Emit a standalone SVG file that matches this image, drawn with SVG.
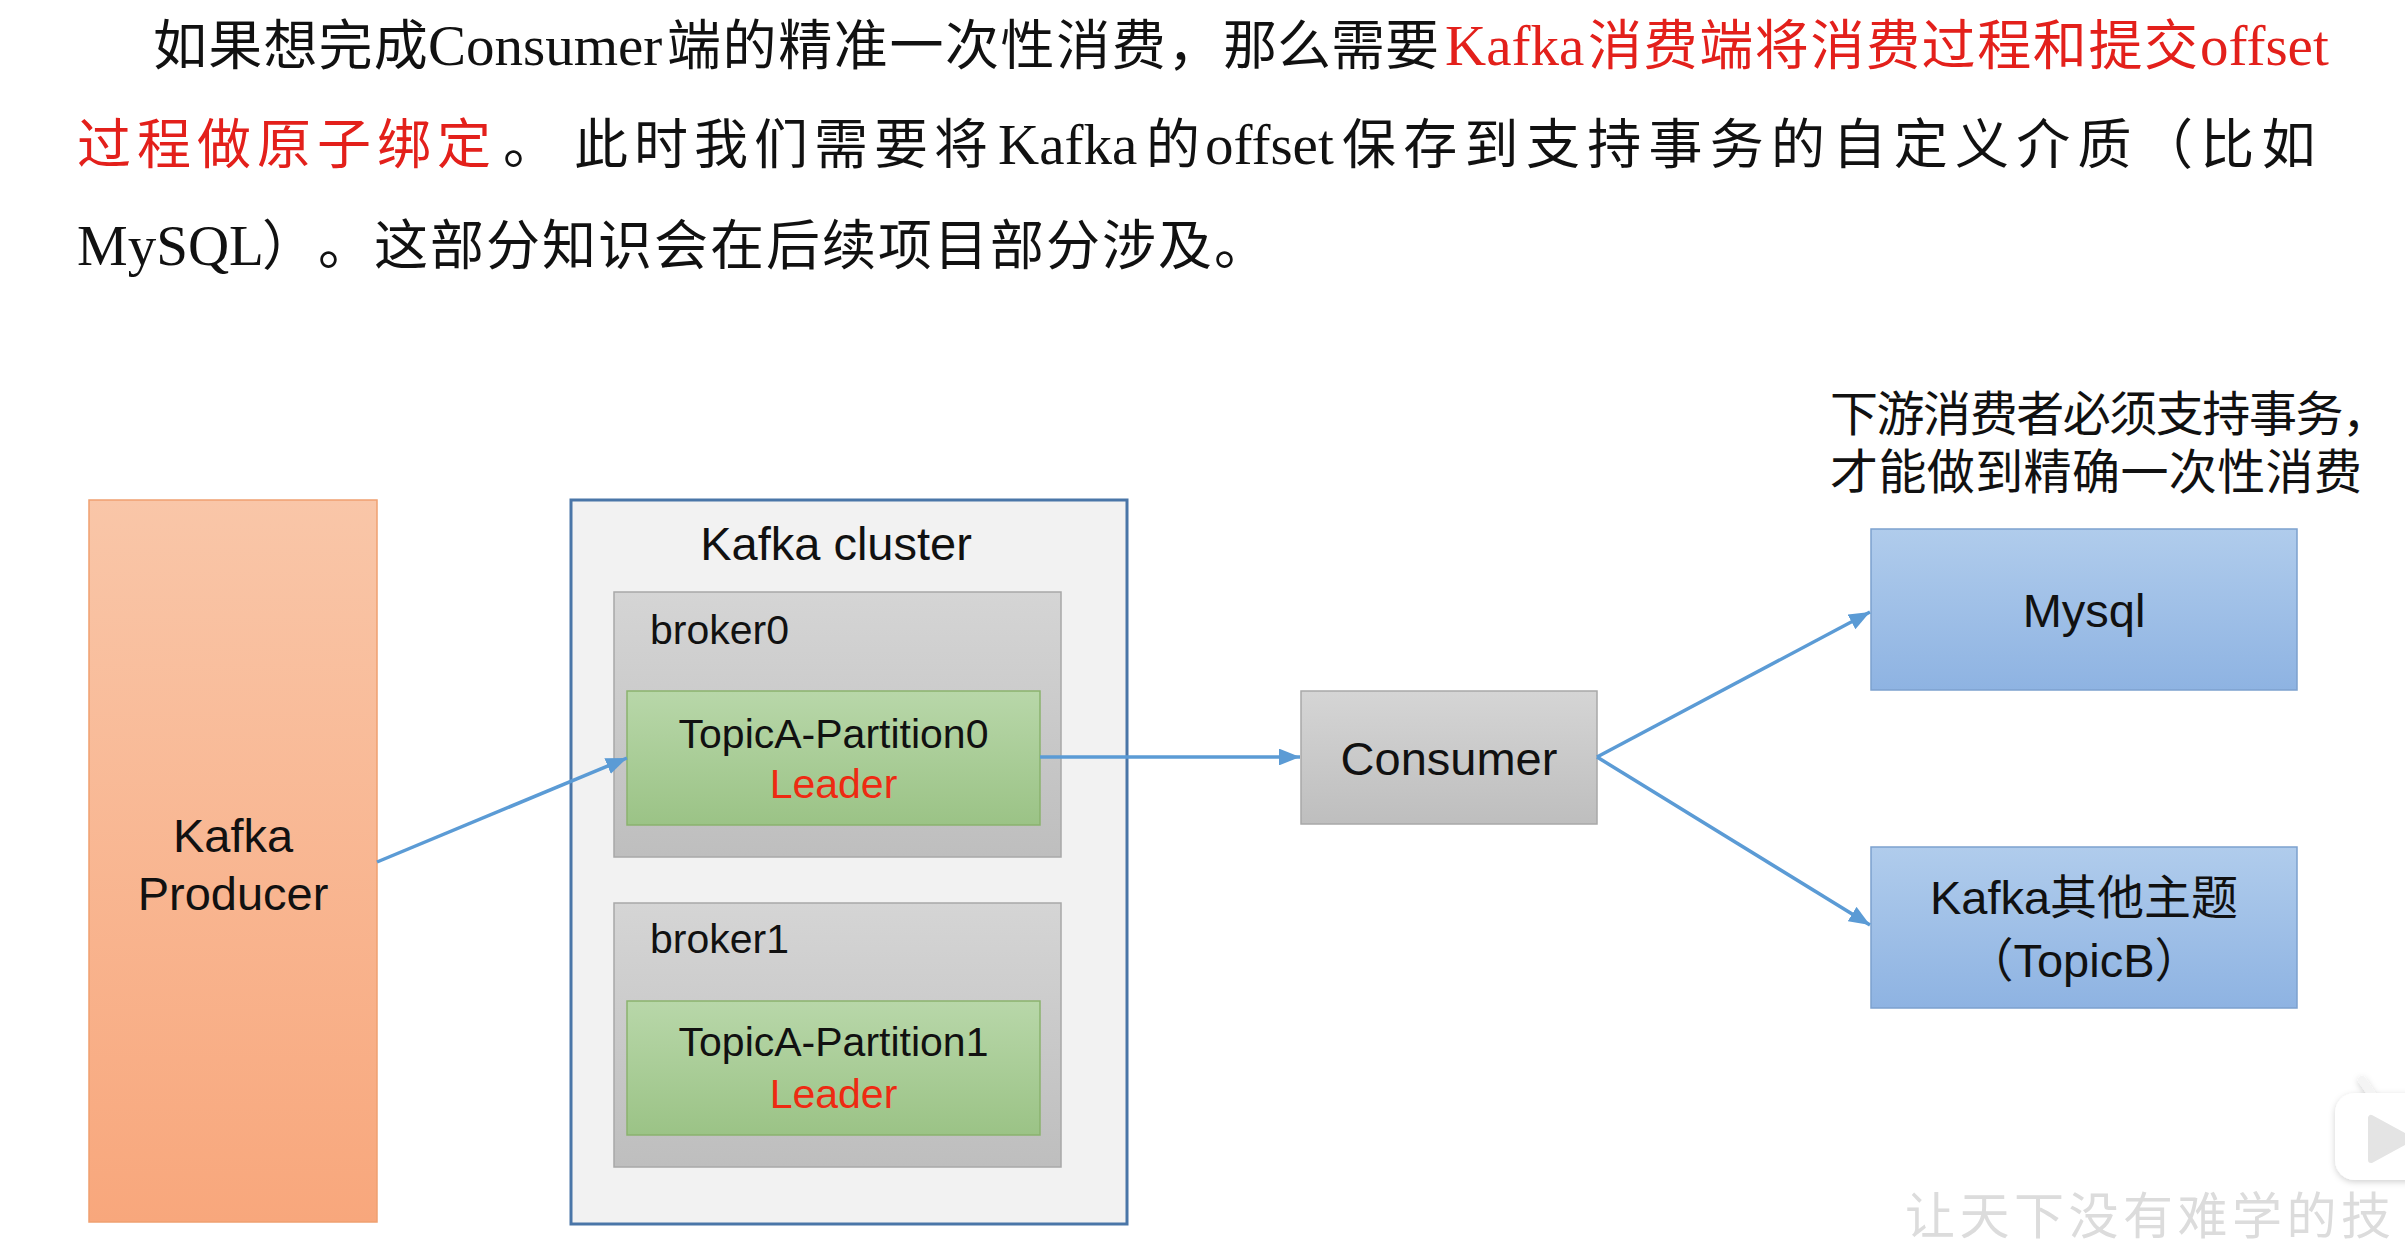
<svg xmlns="http://www.w3.org/2000/svg" width="2405" height="1239" viewBox="0 0 2405 1239">
  <style>
    .para { font-family: "Liberation Serif", "Noto Sans CJK SC", serif; font-size: 54px; fill: #111; }
    .lat { font-size: 57px; }
    .red { fill: #E3201B; }
    .lbl { font-family: "Liberation Sans", "Noto Sans CJK SC", sans-serif; fill: #111; }
    .big { font-size: 47px; }
    .mid { font-size: 41px; }
    .leader { fill: #EE2A12; }
    .note { font-family: "Noto Sans CJK SC", sans-serif; font-size: 48px; fill: #111; }
    .conn { stroke: #5B9BD5; stroke-width: 3.5; fill: none; marker-end: url(#arrow); }
    .wm { font-family: "Noto Sans CJK SC", sans-serif; font-size: 50px; fill: #DCDCDC; }
  </style>
  <defs>
    <linearGradient id="gProd" x1="0" y1="0" x2="0" y2="1">
      <stop offset="0" stop-color="#F9C6A8"/>
      <stop offset="1" stop-color="#F8A77C"/>
    </linearGradient>
    <linearGradient id="gGray" x1="0" y1="0" x2="0" y2="1">
      <stop offset="0" stop-color="#D5D5D5"/>
      <stop offset="1" stop-color="#BEBEBE"/>
    </linearGradient>
    <linearGradient id="gGreen" x1="0" y1="0" x2="0" y2="1">
      <stop offset="0" stop-color="#B8D7A9"/>
      <stop offset="1" stop-color="#9BC386"/>
    </linearGradient>
    <linearGradient id="gBlue" x1="0" y1="0" x2="0" y2="1">
      <stop offset="0" stop-color="#B0CCEC"/>
      <stop offset="1" stop-color="#8EB3E2"/>
    </linearGradient>
    <marker id="arrow" viewBox="0 0 10 8" refX="10" refY="4" markerWidth="6" markerHeight="4.8" orient="auto" markerUnits="strokeWidth">
      <path d="M0,0 L10,4 L0,8 z" fill="#5B9BD5"/>
    </marker>
    <filter id="shadow" x="-30%" y="-30%" width="160%" height="160%">
      <feDropShadow dx="0" dy="2" stdDeviation="3" flood-color="#000" flood-opacity="0.18"/>
    </filter>
  </defs>
  <rect width="2405" height="1239" fill="#FFFFFF"/>

  <g id="paragraph">
    <text class="para" y="65"><tspan x="153" letter-spacing="1.2">如果想完成</tspan><tspan class="lat" x="428">Consumer</tspan><tspan x="667" letter-spacing="1.6">端的精准一次性消费，</tspan><tspan x="1223">那么需要</tspan><tspan class="red lat" x="1445">Kafka</tspan><tspan class="red" x="1588" letter-spacing="1.6">消费端将消费过程和提交</tspan><tspan class="red lat" x="2200">offset</tspan></text>
    <text class="para" y="164"><tspan class="red" x="77" letter-spacing="6">过程做原子绑定</tspan><tspan x="503">。</tspan><tspan x="574" letter-spacing="6">此时我们需要将</tspan><tspan class="lat" x="998">Kafka</tspan><tspan x="1146">的</tspan><tspan class="lat" x="1205">offset</tspan><tspan x="1342" letter-spacing="7.3">保存到支持事务的自定义介质（比如</tspan></text>
    <text class="para" y="265"><tspan class="lat" x="77">MySQL</tspan><tspan x="262">）</tspan><tspan x="318" letter-spacing="2">。这部分知识会在后续项目部分涉及。</tspan></text>
  </g>

  <g id="producer">
    <rect x="89" y="500" width="288" height="722" fill="url(#gProd)" stroke="#EFA070" stroke-width="1.5"/>
    <text class="lbl big" x="233" y="852" text-anchor="middle">Kafka</text>
    <text class="lbl big" x="233" y="910" text-anchor="middle">Producer</text>
  </g>

  <g id="kafka-cluster">
    <rect x="571" y="500" width="556" height="724" fill="#F2F2F2" stroke="#4A76A8" stroke-width="3"/>
    <text class="lbl big" x="836" y="560" text-anchor="middle">Kafka cluster</text>
  </g>

  <g id="broker0">
    <rect x="614" y="592" width="447" height="265" fill="url(#gGray)" stroke="#A8A8A8" stroke-width="1.5"/>
    <text class="lbl mid" x="650" y="644">broker0</text>
  </g>
  <g id="partition0">
    <rect x="627" y="691" width="413" height="134" fill="url(#gGreen)" stroke="#8AB26E" stroke-width="1.5"/>
    <text class="lbl mid" x="833.5" y="748" text-anchor="middle">TopicA-Partition0</text>
    <text class="lbl mid leader" x="833.5" y="798" text-anchor="middle">Leader</text>
  </g>

  <g id="broker1">
    <rect x="614" y="903" width="447" height="264" fill="url(#gGray)" stroke="#A8A8A8" stroke-width="1.5"/>
    <text class="lbl mid" x="650" y="953">broker1</text>
  </g>
  <g id="partition1">
    <rect x="627" y="1001" width="413" height="134" fill="url(#gGreen)" stroke="#8AB26E" stroke-width="1.5"/>
    <text class="lbl mid" x="833.5" y="1056" text-anchor="middle">TopicA-Partition1</text>
    <text class="lbl mid leader" x="833.5" y="1108" text-anchor="middle">Leader</text>
  </g>

  <g id="consumer">
    <rect x="1301" y="691" width="296" height="133" fill="url(#gGray)" stroke="#A8A8A8" stroke-width="1.5"/>
    <text class="lbl big" x="1449" y="775" text-anchor="middle">Consumer</text>
  </g>

  <g id="note">
    <text class="note" x="1830" y="431" textLength="560" lengthAdjust="spacing">下游消费者必须支持事务，</text>
    <text class="note" x="1830" y="489" textLength="532" lengthAdjust="spacing">才能做到精确一次性消费</text>
  </g>

  <g id="mysql">
    <rect x="1871" y="529" width="426" height="161" fill="url(#gBlue)" stroke="#7CA1CE" stroke-width="1.5"/>
    <text class="lbl big" x="2084" y="627" text-anchor="middle">Mysql</text>
  </g>

  <g id="topicb">
    <rect x="1871" y="847" width="426" height="161" fill="url(#gBlue)" stroke="#7CA1CE" stroke-width="1.5"/>
    <text class="lbl big" x="2084" y="914" text-anchor="middle">Kafka其他主题</text>
    <text class="lbl big" x="2084" y="977" text-anchor="middle">（TopicB）</text>
  </g>

  <g id="connectors">
    <path class="conn" d="M377,862 L627,758"/>
    <path class="conn" d="M1040,757 L1300,757"/>
    <path class="conn" d="M1597,757 L1870,612"/>
    <path class="conn" d="M1597,757 L1870,925"/>
  </g>

  <g id="watermark">
    <text class="wm" x="1905" y="1234" letter-spacing="4.5">让天下没有难学的技</text>
    <g filter="url(#shadow)">
      <line x1="2362" y1="1080" x2="2373" y2="1096" stroke="#F4F4F4" stroke-width="8" stroke-linecap="round"/>
      <rect x="2335" y="1093" width="110" height="87" rx="20" fill="#FFFFFF"/>
    </g>
    <polygon points="2371,1118 2371,1160 2410,1139" fill="#E4E4E4" stroke="#E4E4E4" stroke-width="6" stroke-linejoin="round"/>
  </g>
</svg>
